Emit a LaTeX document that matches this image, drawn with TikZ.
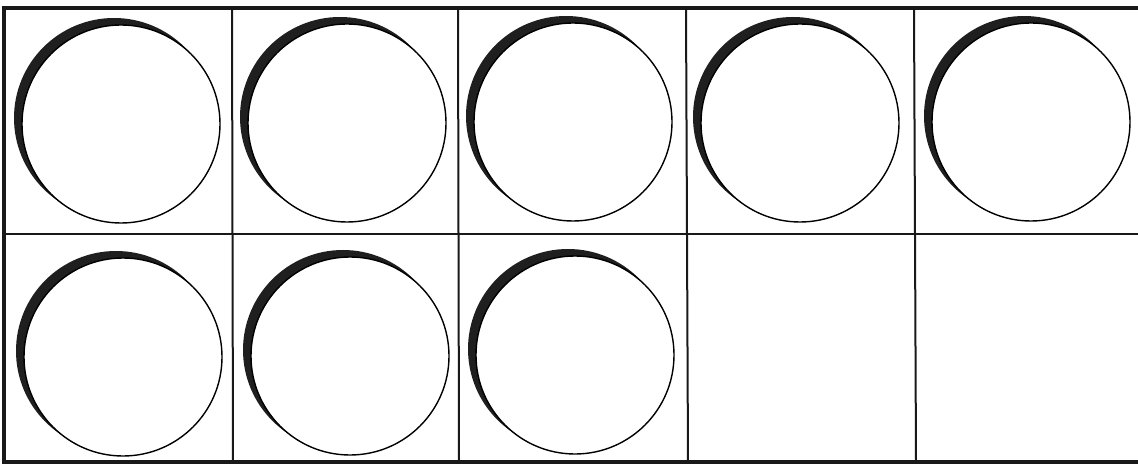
\documentclass[tikz,border=0pt]{standalone}
\begin{document}
\begin{tikzpicture}[x=1pt,y=-1pt,
  frameline/.style={line width=3.5pt,black!90},
  gridline/.style={line width=2pt,black!90},
  shadowfill/.style={fill=black!88},
  counterface/.style={fill=white,draw=black,line width=1.4pt}]
\useasboundingbox (0,0) rectangle (1138,465);
\fill[white] (0,0) rectangle (1138,465);
% grid lines
\coordinate (tl) at (4,8);
\coordinate (bl) at (4,462);
\coordinate (tr) at (1145,8);
\coordinate (br) at (1145,462);
\coordinate (ml) at (4,234);
\coordinate (mr) at (1145,234);
\draw[gridline] (ml) -- (mr);
\foreach \n/\xt/\xb in {a/232/233, b/458/459, c/686/688, d/914/916}{
  \coordinate (\n t) at (\xt,8);
  \coordinate (\n b) at (\xb,462);
  \draw[gridline] (\n t) -- (\n b);
}
\draw[frameline] (tr) -- (tl) -- (bl) -- (br);
% counters
\foreach \n/\cx/\cy in {c1/121/124, c2/347/123, c3/573/122, c4/800/123, c5/1031/122,
                        c6/123/357, c7/350/356, c8/575/355}{
  \coordinate (\n) at (\cx,\cy);
  \fill[shadowfill] ([shift={(-7,-6)}]\n) circle[radius=100];
  \filldraw[counterface] (\n) circle[radius=99];
}
\end{tikzpicture}
\end{document}
